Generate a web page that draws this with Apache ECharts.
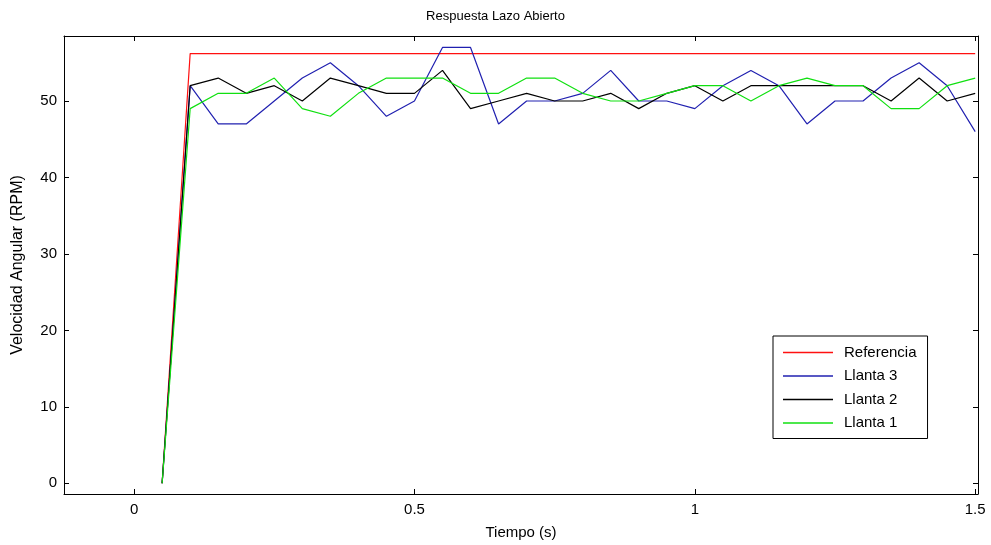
<!DOCTYPE html>
<html>
<head>
<meta charset="utf-8">
<script src="https://cdn.jsdelivr.net/npm/echarts@6/dist/echarts.min.js"></script>
<style>html,body{margin:0;padding:0;background:#fff;}#c{width:991px;height:545px;}</style>
</head>
<body>
<div id="c"></div>
<script>
const time = [0.05,0.10,0.15,0.20,0.25,0.30,0.35,0.40,0.45,0.50,0.55,0.60,0.65,0.70,0.75,0.80,0.85,0.90,0.95,1.00,1.05,1.10,1.15,1.20,1.25,1.30,1.35,1.40,1.45,1.50];
const referencia = [0,56.2,56.2,56.2,56.2,56.2,56.2,56.2,56.2,56.2,56.2,56.2,56.2,56.2,56.2,56.2,56.2,56.2,56.2,56.2,56.2,56.2,56.2,56.2,56.2,56.2,56.2,56.2,56.2,56.2];
const llanta3 = [0,52,47,47,50,53,55,52,48,50,57,57,47,50,50,51,54,50,50,49,52,54,52,47,50,50,53,55,52,46];
const llanta2 = [0,52,53,51,52,50,53,52,51,51,54,49,50,51,50,50,51,49,51,52,50,52,52,52,52,52,50,53,50,51];
const llanta1 = [0,49,51,51,53,49,48,51,53,53,53,51,51,53,53,51,50,50,51,52,52,50,52,53,52,52,49,49,52,53];
const xTicks = [0,0.5,1,1.5];
const yTicks = [0,10,20,30,40,50];
const seriesNames = ['Referencia','Llanta 3','Llanta 2','Llanta 1'];
const seriesColors = ['#ff1010','#2020b0','#000000','#10e010'];

const pairs = arr => time.map((t,i)=>[t,arr[i]]);
const allData = [referencia,llanta3,llanta2,llanta1];
const font = 'Liberation Sans, Arial, sans-serif';

const chart = echarts.init(document.getElementById('c'), null, {renderer:'canvas'});
const xmin=-0.125, xmax=1.505, ymin=-1.4, ymax=58.5;
function tick(vals){return {show:true,inside:true,length:5,customValues:vals,lineStyle:{color:'#000'}};}
const line = {show:true,onZero:false,lineStyle:{color:'#000',width:1}};
chart.setOption({
  animation:false,
  backgroundColor:'#fff',
  title:{text:'Respuesta Lazo Abierto',left:'center',top:5,textStyle:{fontFamily:font,fontSize:13,fontWeight:'normal',color:'#000'}},
  grid:{left:64,right:13,top:36,bottom:51},
  legend:{
    orient:'vertical',left:773,top:336,
    data:seriesNames,
    icon:'rect',itemWidth:50,itemHeight:1.5,itemGap:8.5,
    padding:[9,11,8,10],
    borderColor:'#000',borderWidth:1,backgroundColor:'#fff',
    textStyle:{fontFamily:font,fontSize:15,color:'#000',padding:[0,0,0,6]}
  },
  xAxis:[
    {type:'value',min:xmin,max:xmax,position:'bottom',
      name:'Tiempo (s)',nameLocation:'middle',nameGap:31,
      nameTextStyle:{fontFamily:font,fontSize:15,color:'#000'},
      axisLine:line,axisTick:tick(xTicks),splitLine:{show:false},
      axisLabel:{customValues:xTicks,fontFamily:font,fontSize:15,color:'#000',margin:8,formatter:v=>String(v)}},
    {type:'value',min:xmin,max:xmax,position:'top',
      axisLine:line,axisTick:tick(xTicks),splitLine:{show:false},axisLabel:{show:false}}
  ],
  yAxis:[
    {type:'value',min:ymin,max:ymax,position:'left',
      name:'Velocidad Angular (RPM)',nameLocation:'middle',nameGap:38,
      nameTextStyle:{fontFamily:font,fontSize:16,color:'#000'},
      axisLine:line,axisTick:tick(yTicks),splitLine:{show:false},
      axisLabel:{customValues:yTicks,fontFamily:font,fontSize:15,color:'#000',margin:7}},
    {type:'value',min:ymin,max:ymax,position:'right',
      axisLine:line,axisTick:tick(yTicks),splitLine:{show:false},axisLabel:{show:false}}
  ],
  series: seriesNames.map((n,i)=>({
    name:n,type:'line',data:pairs(allData[i]),
    showSymbol:false,symbol:'none',
    lineStyle:{color:seriesColors[i],width:1.2},
    itemStyle:{color:seriesColors[i]},
    z:2+i
  }))
});
</script>
</body>
</html>
